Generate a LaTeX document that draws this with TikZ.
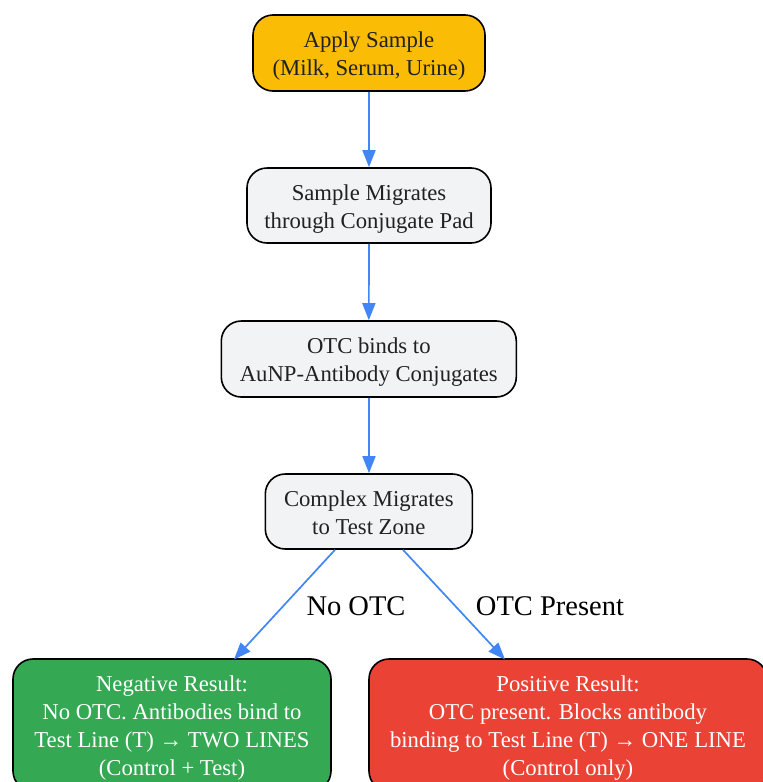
\documentclass[tikz,border=0pt]{standalone}
\usepackage{fontspec}
\setmainfont{Liberation Serif}
\usetikzlibrary{arrows.meta}
\definecolor{gyellow}{HTML}{FBBC05}
\definecolor{ggray}{HTML}{F1F3F4}
\definecolor{ggreen}{HTML}{34A853}
\definecolor{gred}{HTML}{EA4335}
\definecolor{gblue}{HTML}{4285F4}
\definecolor{gtext}{HTML}{202124}
\newcommand{\boxtext}[1]{\raisebox{-3pt}[\dimexpr\height+3pt\relax][\dimexpr\depth+3pt\relax]{\begin{tabular}{@{}c@{}}#1\end{tabular}}}
\begin{document}
\begin{tikzpicture}[x=1pt,y=-1pt,
  box/.style={draw=black, line width=1.6pt, rounded corners=20pt, align=center,
    font=\fontsize{22.7}{28}\selectfont, text=gtext, inner sep=0pt},
  conn/.style={draw=gblue, line width=1.7pt, -{Triangle[length=17pt,width=13pt]}},
  elabel/.style={font=\fontsize{28.5}{32}\selectfont, text=black}
]
\useasboundingbox (0,0) rectangle (763,782);
\node[box, fill=gyellow, minimum width=232pt, minimum height=76pt] (n1) at (369,53) {\boxtext{Apply Sample\\(Milk, Serum, Urine)}};
\node[box, fill=ggray, minimum width=244pt, minimum height=75pt] (n2) at (369,205.5) {\boxtext{Sample Migrates\\through Conjugate Pad}};
\node[box, fill=ggray, minimum width=295pt, minimum height=76pt] (n3) at (368.8,359) {\boxtext{OTC binds to\\AuNP-Antibody Conjugates}};
\node[box, fill=ggray, minimum width=207pt, minimum height=75pt] (n4) at (368.8,511.5) {\boxtext{Complex Migrates\\to Test Zone}};
\node[box, fill=ggreen, text=white, minimum width=318pt, minimum height=132pt] (neg) at (172,725) {\boxtext{Negative Result:\\No OTC. Antibodies bind to\\Test Line (T) → TWO LINES\\(Control + Test)}};
\node[box, fill=gred, text=white, minimum width=398pt, minimum height=132pt] (pos) at (568,725) {\boxtext{Positive Result:\\OTC present. Blocks antibody\\binding to Test Line (T) → ONE LINE\\(Control only)}};
\coordinate (a1) at (335,549);
\coordinate (a2) at (403,549);
\draw[conn] (n1) -- (n2);
\draw[conn] (n2) -- (n3);
\draw[conn] (n3.south -| n1) -- (n4.north -| n1);
\draw[conn] (n4.south -| a1) -- (234,659.5);
\draw[conn] (n4.south -| a2) -- (505,659.5);
\node[elabel] (l1) at (356,606) {No OTC};
\node[elabel] (l2) at (550,606) {OTC Present};
\end{tikzpicture}
\end{document}
